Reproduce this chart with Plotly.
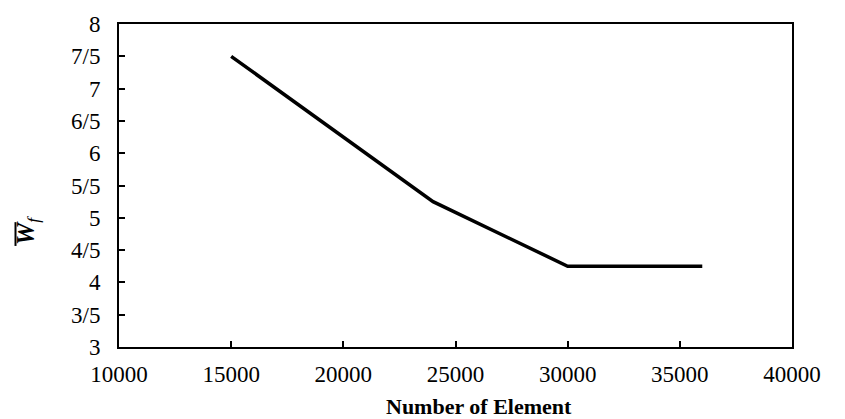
import plotly.graph_objects as go

elements = [15000, 24000, 30000, 36000]
wf = [7.5, 5.25, 4.25, 4.25]
y_tick_vals = [3, 3.5, 4, 4.5, 5, 5.5, 6, 6.5, 7, 7.5, 8]
y_tick_text = ["3", "3/5", "4", "4/5", "5", "5/5", "6", "6/5", "7", "7/5", "8"]
x_tick_vals = [10000, 15000, 20000, 25000, 30000, 35000, 40000]
x_tick_text = ["10000", "15000", "20000", "25000", "30000", "35000", "40000"]

W, H = 845, 419
ml, mr, mt, mb = 119, 53, 21, 72
pw, ph = W - ml - mr, H - mt - mb


def px(x):
    return (x - ml) / pw


def py(y):
    return 1 - (y - mt) / ph


fam = "Liberation Serif"
font = dict(family=fam, size=23, color="black")

fig = go.Figure()
fig.add_trace(go.Scatter(x=elements, y=wf, mode="lines",
                         line=dict(color="black", width=3.5), showlegend=False))

fig.update_layout(
    width=W, height=H,
    margin=dict(l=ml, r=mr, t=mt, b=mb),
    paper_bgcolor="white", plot_bgcolor="white",
    font=font,
    xaxis=dict(range=[10000, 40000], tickvals=x_tick_vals, ticktext=x_tick_text,
               ticks="inside", ticklen=6, tickwidth=1.5, tickcolor="black",
               showline=True, linecolor="black", linewidth=2, mirror=True,
               showgrid=False, zeroline=False, tickfont=font, ticklabelstandoff=5),
    yaxis=dict(range=[3, 8], tickvals=y_tick_vals, ticktext=y_tick_text, ticks="inside",
               ticklen=6, tickwidth=1.5, tickcolor="black", showline=True, linecolor="black",
               linewidth=2, mirror=True, showgrid=False, zeroline=False, tickfont=font,
               ticklabelstandoff=12),
)

# x-axis title
fig.add_annotation(xref="paper", yref="paper", x=px(479), y=py(407),
                   text="<b>Number of Element</b>", showarrow=False,
                   font=dict(family=fam, size=22, color="black"),
                   xanchor="center", yanchor="middle")

# y-axis title
fig.add_annotation(xref="paper", yref="paper", x=px(27), y=py(230),
                   text="<b><i>W</i></b><sub><i>f</i></sub>", showarrow=False,
                   textangle=-90, font=dict(family=fam, size=25, color="black"),
                   xanchor="center", yanchor="middle")
# overline of W
fig.add_shape(type="line", xref="paper", yref="paper",
              x0=px(15.5), x1=px(15.5), y0=py(221), y1=py(245),
              line=dict(color="black", width=2))

fig.write_html("out.html")
